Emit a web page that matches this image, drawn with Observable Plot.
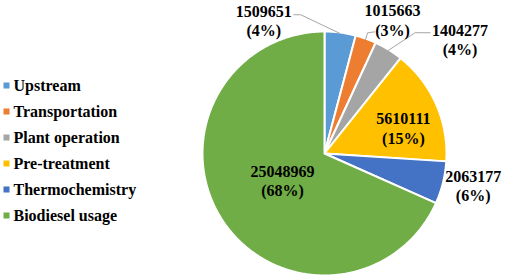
<!DOCTYPE html>
<html>
<head>
<meta charset="utf-8">
<script src="https://cdn.jsdelivr.net/npm/d3@7"></script>
<script src="https://cdn.jsdelivr.net/npm/@observablehq/plot@0.6"></script>
<style>
  html, body { margin: 0; padding: 0; background: #fff; }
  #chart { width: 505px; height: 276px; overflow: hidden; }
</style>
</head>
<body>
<div id="chart"></div>
<script>
// ---- Data ----
const categories = ["Upstream", "Transportation", "Plant operation", "Pre-treatment", "Thermochemistry", "Biodiesel usage"];
const values = [1509651, 1015663, 1404277, 5610111, 2063177, 25048969];
const colors = ["#5B9BD5", "#ED7D31", "#A5A5A5", "#FFC000", "#4472C4", "#70AD47"];

// ---- Layout ----
const W = 505, H = 276;
const cx = 324, cy = 153, R = 122;
const FONT = "'Liberation Serif', 'DejaVu Serif', serif";
// label placement: polar angle (deg, clockwise from 12 o'clock) and distance from centre
const labelPolar = [[-24.6, 146], [27, 150], [50, 177], [72, 83], [102, 152], [237, 50]];
// leader lines: pixel offset of label-side end / elbow from label centre
const leaders = [
  {i: 0, end: [30, -6], elbow: [37, -6]},
  {i: 1, end: [-18, 12], elbow: [-25, 13]},
  {i: 2, end: [-30, -7], elbow: [-45, -7]}
];
const legendX = 6, legendY0 = 85, legendStep = 26;

const total = d3.sum(values);
const arcs = d3.pie().sort(null).startAngle(0).endAngle(2 * Math.PI)(values);
const pt = (a, r) => [cx + r * Math.sin(a), cy - r * Math.cos(a)];

// slice polygons
const slicePts = [];
arcs.forEach((a, i) => {
  slicePts.push({cat: categories[i], x: cx, y: cy});
  const n = Math.max(4, Math.ceil((a.endAngle - a.startAngle) / 0.01));
  for (let k = 0; k <= n; k++) {
    const ang = a.startAngle + (a.endAngle - a.startAngle) * k / n;
    const [x, y] = pt(ang, R);
    slicePts.push({cat: categories[i], x, y});
  }
  slicePts.push({cat: categories[i], x: cx, y: cy});
});

// labels
const labels = arcs.map((a, i) => {
  const [x, y] = pt(labelPolar[i][0] * Math.PI / 180, labelPolar[i][1]);
  return {x, y, text: `${values[i]}\n(${Math.round(values[i] / total * 100)}%)`};
});

// leader lines
const leaderPts = [];
leaders.forEach(l => {
  const a = arcs[l.i];
  const [ex, ey] = pt((a.startAngle + a.endAngle) / 2, R - 1);
  const lb = labels[l.i];
  leaderPts.push({k: l.i, x: lb.x + l.end[0], y: lb.y + l.end[1]});
  leaderPts.push({k: l.i, x: lb.x + l.elbow[0], y: lb.y + l.elbow[1]});
  leaderPts.push({k: l.i, x: ex, y: ey});
});

// legend
const legend = categories.map((c, i) => ({cat: c, x: legendX, y: legendY0 + i * legendStep}));

const chart = Plot.plot({
  width: W, height: H,
  margin: 0,
  style: {fontFamily: FONT, background: "#fff"},
  x: {domain: [0, W], range: [0, W], axis: null},
  y: {domain: [0, H], range: [0, H], axis: null},
  color: {domain: categories, range: colors},
  marks: [
    Plot.line(slicePts, {x: "x", y: "y", z: "cat", fill: "cat", stroke: "#fff", strokeWidth: 2, strokeLinejoin: "round", curve: "linear"}),
    Plot.line(leaderPts, {x: "x", y: "y", z: "k", stroke: "#A6A6A6", strokeWidth: 1}),
    Plot.text(labels, {x: "x", y: "y", text: "text", fontFamily: FONT, fontSize: 16, fontWeight: "bold", fill: "#000", lineHeight: 1.2, textAnchor: "middle"}),
    Plot.dot(legend, {x: "x", y: "y", fill: "cat", symbol: "square", r: 3.4, stroke: null}),
    Plot.text(legend, {x: d => d.x + 7, y: "y", text: "cat", fontFamily: FONT, fontSize: 16, fontWeight: "bold", fill: "#000", textAnchor: "start"})
  ]
});
document.getElementById("chart").appendChild(chart);
</script>
</body>
</html>
